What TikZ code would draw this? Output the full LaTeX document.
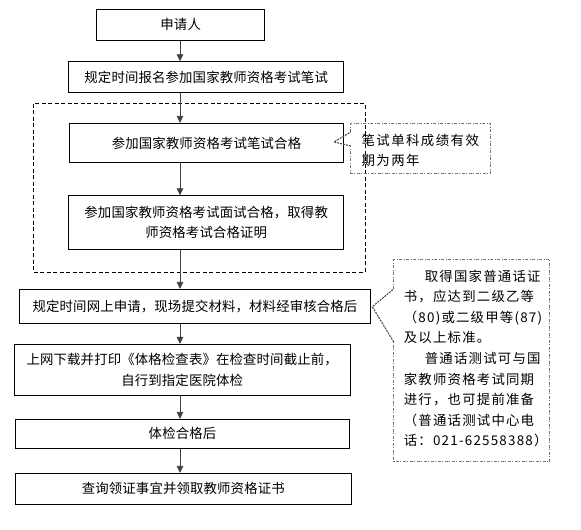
\documentclass[tikz,border=0pt]{standalone}
\usepackage{fontspec}
\usetikzlibrary{arrows.meta}
\newfontfamily\cjkmain[LetterSpace=1]{Noto Sans CJK SC}
\newfontfamily\cjknote[LetterSpace=11]{Noto Sans CJK SC}
\newfontfamily\cjknoteb[LetterSpace=9]{Noto Sans CJK SC}
\begin{document}
\begin{tikzpicture}[x=1pt,y=-1pt,
  box/.style={draw=black,line width=0.8pt,inner sep=0pt,align=center,
    font=\cjkmain\fontsize{13.4}{20.8}\selectfont},
  arr/.style={draw=black!75,line width=0.8pt,-{Triangle[length=7pt,width=6.5pt]}},
  group/.style={draw=black,line width=0.7pt,dash pattern=on 4pt off 2.5pt},
  callout/.style={draw=black!55,line width=0.9pt,dash pattern=on 3pt off 1.5pt on 1pt off 1.5pt},
  pointer/.style={draw=black!70,line width=1.1pt,dash pattern=on 2pt off 1pt},
  notetext/.style={inner sep=0pt,align=left,anchor=north west,
    font=\cjknote\fontsize{13.4}{20.6}\selectfont},
  holder/.style={draw=none,inner sep=0pt}]
\useasboundingbox[fill=white] (0,0) rectangle (581,530);

\coordinate (ax) at (180,0);

\node[box,minimum width=168pt,minimum height=31pt] (n1) at (180.7,24.8) {申请人};
\node[box,minimum width=275pt,minimum height=30.6pt] (n2) at (206.2,77) {规定时间报名参加国家教师资格考试笔试};
\node[box,minimum width=274.4pt,minimum height=39.4pt] (n3) at (206.5,143) {参加国家教师资格考试笔试合格};
\node[box,minimum width=275pt,minimum height=53.6pt] (n4) at (206.2,222.5) {参加国家教师资格考试面试合格，取得教\\师资格考试合格证明};
\node[box,minimum width=351.4pt,minimum height=34pt] (n5) at (195,306.3) {规定时间网上申请，现场提交材料，材料经审核合格后};
\node[box,minimum width=335.7pt,minimum height=50.7pt] (n6) at (182.2,369.7) {上网下载并打印《体格检查表》在检查时间截止前，\\自行到指定医院体检};
\node[box,minimum width=334.4pt,minimum height=29pt] (n7) at (182.5,433.8) {体检合格后};
\node[box,minimum width=336pt,minimum height=31pt] (n8) at (183.3,488.8) {查询领证事宜并领取教师资格证书};

% dashed group
\node[holder,minimum width=331.4pt,minimum height=168pt] (grp) at (199,187.7) {};
\draw[group] (grp.north west) rectangle (grp.south east);

% arrows
\draw[arr] (n1.south -| ax) -- (n2.north -| ax);
\draw[arr] (n2.south -| ax) -- (n3.north -| ax);
\draw[arr] (n3.south -| ax) -- (n4.north -| ax);
\draw[arr] (n4.south -| ax) -- (n5.north -| ax);
\draw[arr] (n5.south -| ax) -- (n6.north -| ax);
\draw[arr] (n6.south -| ax) -- (n7.north -| ax);
\draw[arr] (n7.south -| ax) -- (n8.north -| ax);

% callout 1
\coordinate (c1nw) at (350.7,123.3);
\coordinate (c1se) at (490.3,173.3);
\coordinate (t1) at (334,142);
\coordinate (c1a) at (350.7,132);
\coordinate (c1b) at (350.7,146);
\draw[callout] (c1a) -- (c1nw) -- (c1nw -| c1se) -- (c1se) -- (c1se -| c1nw) -- (c1b);
\draw[pointer] (c1b) -- (t1) -- (c1a);
\node[notetext] (c1t) at (361.3,133.5) {笔试单科成绩有效\\期为两年};

% callout 2
\coordinate (c2nw) at (393.7,259.3);
\coordinate (c2se) at (549.7,461.7);
\coordinate (t2) at (372.3,306.7);
\coordinate (c2a) at (393.7,289);
\coordinate (c2b) at (393.7,342);
\draw[callout] (c2a) -- (c2nw) -- (c2nw -| c2se) -- (c2se) -- (c2se -| c2nw) -- (c2b);
\draw[pointer] (c2b) -- (t2) -- (c2a);
\node[notetext,font=\cjknoteb\fontsize{13.4}{20.6}\selectfont] (c2t) at (403.7,269.5) {\hspace*{21pt}取得国家普通话证\\书，应达到二级乙等\\（80)或二级甲等(87)\\及以上标准。\\\hspace*{21pt}普通话测试可与国\\家教师资格考试同期\\进行，也可提前准备\\（普通话测试中心电\\话：021-62558388）};
\end{tikzpicture}
\end{document}
